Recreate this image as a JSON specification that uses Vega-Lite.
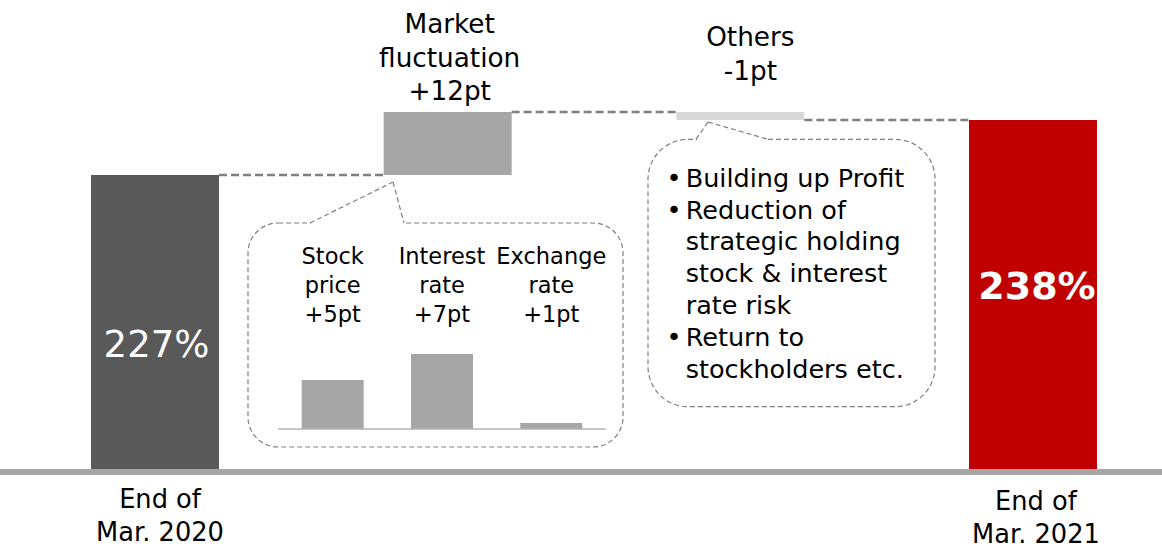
{
  "$schema": "https://vega.github.io/schema/vega-lite/v6.json",
  "width": 1162,
  "height": 472,
  "autosize": {"type": "none"},
  "padding": {"left": 0, "top": 0, "right": 0, "bottom": 74},
  "background": "white",
  "config": {"view": {"stroke": null}, "font": "DejaVu Sans"},
  "resolve": {"scale": {"x": "independent", "y": "independent"}},
  "layer": [
    {
      "data": {"values": [
        {"cat": "End of Mar. 2020", "kind": "total", "start": null, "end": 227, "label": "227%", "xlabel": "End of\nMar. 2020"},
        {"cat": "Market fluctuation", "kind": "delta", "start": 227, "end": 239.6, "label": "Market\nfluctuation\n+12pt"},
        {"cat": "Others", "kind": "delta", "start": 239.6, "end": 238, "label": "Others\n-1pt"},
        {"cat": "End of Mar. 2021", "kind": "total", "start": null, "end": 238, "label": "238%", "xlabel": "End of\nMar. 2021"}
      ]},
      "layer": [
        {
          "transform": [{"filter": "datum.kind === 'total'"}],
          "mark": {"type": "bar"},
          "encoding": {
            "x": {"field": "cat", "type": "nominal", "sort": null, "axis": null,
                  "scale": {"type": "band", "domain": ["End of Mar. 2020", "Market fluctuation", "Others", "End of Mar. 2021"], "paddingInner": 0.5627, "paddingOuter": 0.2666, "align": 0.5833}},
            "y": {"field": "end", "type": "quantitative", "axis": null, "scale": {"domain": [167.6, 262], "zero": false, "nice": false}},
            "y2": {"datum": 167.6},
            "color": {"field": "cat", "type": "nominal", "legend": null,
                      "scale": {"domain": ["End of Mar. 2020", "Market fluctuation", "Others", "End of Mar. 2021"], "range": ["#595959", "#a6a6a6", "#d9d9d9", "#c00000"]}}
          }
        },
        {
          "transform": [{"filter": "datum.kind === 'delta'"}],
          "mark": {"type": "bar"},
          "encoding": {
            "x": {"field": "cat", "type": "nominal", "sort": null},
            "y": {"field": "end", "type": "quantitative"},
            "y2": {"field": "start"},
            "color": {"field": "cat", "type": "nominal", "legend": null}
          }
        },
        {
          "data": {"values": [
            {"from": "End of Mar. 2020", "to": "Market fluctuation", "level": 227},
            {"from": "Market fluctuation", "to": "Others", "level": 239.6},
            {"from": "Others", "to": "End of Mar. 2021", "level": 238}
          ]},
          "mark": {"type": "rule", "color": "#7f7f7f", "strokeWidth": 2.5, "strokeDash": [8, 4]},
          "encoding": {
            "x": {"field": "from", "type": "nominal", "bandPosition": 1},
            "x2": {"field": "to", "bandPosition": 0},
            "y": {"field": "level", "type": "quantitative"}
          }
        },
        {
          "data": {"values": [{"base": 167.6}]},
          "mark": {"type": "rule", "color": "#a6a6a6", "strokeWidth": 6},
          "encoding": {"y": {"field": "base", "type": "quantitative"}}
        },
        {
          "transform": [{"filter": "datum.cat === 'End of Mar. 2020'"}],
          "mark": {"type": "text", "color": "white", "fontSize": 37, "baseline": "alphabetic", "align": "center", "dy": 181.7, "dx": 1.5},
          "encoding": {
            "x": {"field": "cat", "type": "nominal", "sort": null},
            "y": {"field": "end", "type": "quantitative"},
            "text": {"field": "label"}
          }
        },
        {
          "transform": [{"filter": "datum.cat === 'End of Mar. 2021'"}],
          "mark": {"type": "text", "color": "white", "fontSize": 38, "fontWeight": "bold", "baseline": "alphabetic", "align": "center", "dy": 179, "dx": 4},
          "encoding": {
            "x": {"field": "cat", "type": "nominal", "sort": null},
            "y": {"field": "end", "type": "quantitative"},
            "text": {"field": "label"}
          }
        },
        {
          "transform": [{"filter": "datum.cat === 'Market fluctuation'"}],
          "mark": {"type": "text", "color": "black", "fontSize": 26.3, "lineHeight": 33.6, "lineBreak": "\n", "baseline": "alphabetic", "align": "center", "dy": -79, "dx": 2},
          "encoding": {
            "x": {"field": "cat", "type": "nominal", "sort": null},
            "y": {"field": "end", "type": "quantitative"},
            "text": {"field": "label"}
          }
        },
        {
          "transform": [{"filter": "datum.cat === 'Others'"}],
          "mark": {"type": "text", "color": "black", "fontSize": 26.3, "lineHeight": 34, "lineBreak": "\n", "baseline": "alphabetic", "align": "center", "dy": -66, "dx": 10},
          "encoding": {
            "x": {"field": "cat", "type": "nominal", "sort": null},
            "y": {"field": "start", "type": "quantitative"},
            "text": {"field": "label"}
          }
        },
        {
          "transform": [{"filter": "datum.cat === 'End of Mar. 2020'"}],
          "mark": {"type": "text", "color": "black", "fontSize": 25.7, "lineHeight": 32.4, "lineBreak": "\n", "baseline": "alphabetic", "align": "center", "y": "height", "dy": 36.3, "dx": 5},
          "encoding": {
            "x": {"field": "cat", "type": "nominal", "sort": null},
            "text": {"field": "xlabel"}
          }
        },
        {
          "transform": [{"filter": "datum.cat === 'End of Mar. 2021'"}],
          "mark": {"type": "text", "color": "black", "fontSize": 25.7, "lineHeight": 32.4, "lineBreak": "\n", "baseline": "alphabetic", "align": "center", "y": "height", "dy": 38.2, "dx": 3},
          "encoding": {
            "x": {"field": "cat", "type": "nominal", "sort": null},
            "text": {"field": "xlabel"}
          }
        }
      ]
    },
    {
      "data": {"values": [
        {"factor": "Stock price", "value": 4.9, "label": "Stock\nprice\n+5pt"},
        {"factor": "Interest rate", "value": 7.5, "label": "Interest\nrate\n+7pt"},
        {"factor": "Exchange rate", "value": 0.6, "label": "Exchange\nrate\n+1pt"}
      ]},
      "layer": [
        {
          "mark": {"type": "bar", "color": "#a6a6a6"},
          "encoding": {
            "x": {"field": "factor", "type": "nominal", "sort": null, "axis": null,
                  "scale": {"type": "band", "domain": ["Stock price", "Interest rate", "Exchange rate"], "range": [301.7, 582.3], "paddingInner": 0.4327, "paddingOuter": 0}},
            "y": {"field": "value", "type": "quantitative", "axis": null, "scale": {"domain": [-4.3, 42.9], "zero": false, "nice": false}}
          }
        },
        {
          "transform": [{"filter": "datum.factor === 'Stock price'"}],
          "mark": {"type": "rule", "color": "#b3b3b3", "strokeWidth": 1.5},
          "encoding": {
            "x": {"datum": "Stock price", "type": "nominal", "bandPosition": -0.38},
            "x2": {"datum": "Exchange rate", "bandPosition": 1.38},
            "y": {"datum": 0, "type": "quantitative"}
          }
        },
        {
          "mark": {"type": "text", "color": "black", "fontSize": 22.5, "lineHeight": 29, "lineBreak": "\n", "baseline": "alphabetic", "align": "center", "dy": -165},
          "encoding": {
            "x": {"field": "factor", "type": "nominal", "sort": null},
            "y": {"datum": 0, "type": "quantitative"},
            "text": {"field": "label"}
          }
        }
      ]
    },
    {
      "data": {"values": [
        {"note": "Building up Profit\nReduction of\nstrategic holding\nstock & interest\nrate risk\nReturn to\nstockholders etc.", "bullets": "•\n•", "bullet": "•"}
      ]},
      "layer": [
        {
          "mark": {"type": "rect", "fillOpacity": 0, "stroke": "#808080", "strokeWidth": 1.2, "strokeDash": [5, 3], "cornerRadius": 30},
          "encoding": {
            "x": {"datum": 0.3178, "type": "quantitative", "axis": null, "scale": {"domain": [-0.5296, 3.4407], "zero": false, "nice": false}},
            "x2": {"datum": 1.5991},
            "y": {"datum": 217.4, "type": "quantitative", "axis": null, "scale": {"domain": [167.6, 262], "zero": false, "nice": false}},
            "y2": {"datum": 172.6}
          }
        },
        {
          "mark": {"type": "rect", "fillOpacity": 0, "stroke": "#808080", "strokeWidth": 1.2, "strokeDash": [5, 3], "cornerRadius": 40},
          "encoding": {
            "x": {"datum": 1.6845, "type": "quantitative"},
            "x2": {"datum": 2.6651},
            "y": {"datum": 234.14, "type": "quantitative"},
            "y2": {"datum": 180.66}
          }
        },
        {
          "mark": {"type": "rule", "color": "white", "strokeWidth": 4},
          "encoding": {
            "x": {"datum": 0.533, "type": "quantitative"},
            "x2": {"datum": 0.8474},
            "y": {"datum": 217.4, "type": "quantitative"}
          }
        },
        {
          "mark": {"type": "rule", "color": "white", "strokeWidth": 4},
          "encoding": {
            "x": {"datum": 1.8519, "type": "quantitative"},
            "x2": {"datum": 2.0911},
            "y": {"datum": 234.14, "type": "quantitative"}
          }
        },
        {
          "mark": {"type": "rule", "color": "#808080", "strokeWidth": 1.2, "strokeDash": [5, 3]},
          "encoding": {
            "x": {"datum": 0.5296, "type": "quantitative"},
            "x2": {"datum": 0.8132},
            "y": {"datum": 217.4, "type": "quantitative"},
            "y2": {"datum": 225.6}
          }
        },
        {
          "mark": {"type": "rule", "color": "#808080", "strokeWidth": 1.2, "strokeDash": [5, 3]},
          "encoding": {
            "x": {"datum": 0.8132, "type": "quantitative"},
            "x2": {"datum": 0.8508},
            "y": {"datum": 225.6, "type": "quantitative"},
            "y2": {"datum": 217.4}
          }
        },
        {
          "mark": {"type": "rule", "color": "#808080", "strokeWidth": 1.2, "strokeDash": [5, 3]},
          "encoding": {
            "x": {"datum": 1.8485, "type": "quantitative"},
            "x2": {"datum": 1.8895},
            "y": {"datum": 234.14, "type": "quantitative"},
            "y2": {"datum": 237.6}
          }
        },
        {
          "mark": {"type": "rule", "color": "#808080", "strokeWidth": 1.2, "strokeDash": [5, 3]},
          "encoding": {
            "x": {"datum": 1.8895, "type": "quantitative"},
            "x2": {"datum": 2.0945},
            "y": {"datum": 237.6, "type": "quantitative"},
            "y2": {"datum": 234.14}
          }
        },
        {
          "mark": {"type": "text", "color": "black", "fontSize": 25.5, "lineHeight": 31.9, "lineBreak": "\n", "baseline": "alphabetic", "align": "left"},
          "encoding": {
            "x": {"datum": 1.8133, "type": "quantitative"},
            "y": {"datum": 224.66, "type": "quantitative"},
            "text": {"field": "note"}
          }
        },
        {
          "mark": {"type": "text", "color": "black", "fontSize": 25.5, "lineHeight": 31.9, "lineBreak": "\n", "baseline": "alphabetic", "align": "center"},
          "encoding": {
            "x": {"datum": 1.7733, "type": "quantitative"},
            "y": {"datum": 224.66, "type": "quantitative"},
            "text": {"field": "bullets"}
          }
        },
        {
          "mark": {"type": "text", "color": "black", "fontSize": 25.5, "baseline": "alphabetic", "align": "center"},
          "encoding": {
            "x": {"datum": 1.7733, "type": "quantitative"},
            "y": {"datum": 192.76, "type": "quantitative"},
            "text": {"field": "bullet"}
          }
        }
      ]
    }
  ]
}
